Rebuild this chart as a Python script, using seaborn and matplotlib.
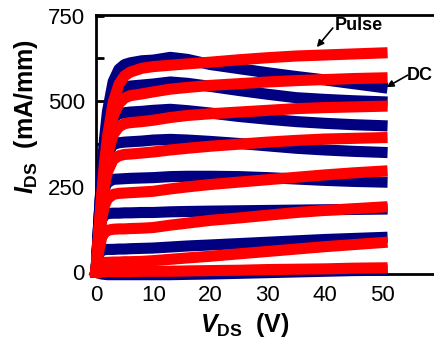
import matplotlib
matplotlib.use("Agg")
import matplotlib.pyplot as plt
import pandas as pd
import seaborn as sns

# drain voltage grid (V)
vds = [0, 0.5, 1, 1.5, 2, 3, 4, 5, 6, 8, 10, 13, 16, 20, 25, 30, 35, 40, 45, 50]

# DC output curves (mA/mm), top gate voltage first
dc_1 = [0, 151, 284, 391, 469, 557, 593, 607, 612, 618, 620, 628, 622, 607, 595, 583, 572, 562, 551, 540]
dc_2 = [0, 148, 275, 372, 439, 507, 532, 541, 544, 547, 550, 556, 552, 543, 531, 520, 510, 505, 501, 498]
dc_3 = [0, 150, 273, 357, 407, 451, 463, 466, 468, 470, 473, 476, 472, 465, 455, 447, 440, 435, 431, 428]
dc_4 = [0, 139, 246, 311, 347, 373, 378, 380, 381, 383, 386, 388, 386, 382, 376, 369, 362, 357, 353, 350]
dc_5 = [0, 126, 207, 246, 262, 271, 272, 273, 274, 275, 276, 279, 280, 280, 279, 276, 272, 268, 265, 263]
dc_6 = [0, 105, 153, 167, 171, 172, 172, 173, 173, 174, 174, 176, 177, 178, 179, 180, 181, 182, 183, 184]
dc_7 = [0, 55, 64, 65, 66, 66, 67, 67, 68, 69, 70, 73, 76, 79, 83, 87, 91, 95, 98, 101]
dc_8 = [0, -4, -6, -7, -8, -8, -8, -8, -8, -8, -8, -8, -7, -6, -4, -2, 0, 2, 4, 5]

# pulsed output curves (mA/mm)
pulse_1 = [0, 117, 226, 320, 395, 496, 549, 574, 585, 596, 601, 605, 609, 614, 621, 627, 632, 635, 638, 641]
pulse_2 = [0, 116, 221, 308, 375, 456, 493, 509, 516, 521, 527, 535, 540, 546, 551, 556, 560, 563, 566, 568]
pulse_3 = [0, 113, 212, 288, 343, 402, 425, 434, 437, 440, 444, 452, 458, 463, 468, 473, 478, 481, 483, 485]
pulse_4 = [0, 104, 191, 253, 293, 329, 340, 344, 345, 348, 351, 357, 362, 368, 374, 380, 385, 389, 391, 393]
pulse_5 = [0, 91, 157, 195, 214, 227, 230, 231, 232, 234, 236, 243, 249, 256, 263, 270, 277, 284, 290, 295]
pulse_6 = [0, 63, 101, 116, 122, 125, 126, 126, 127, 128, 130, 137, 143, 151, 158, 166, 174, 180, 185, 190]
pulse_7 = [0, 21, 27, 28, 28, 29, 29, 30, 30, 31, 33, 37, 41, 46, 53, 60, 67, 74, 80, 86]
pulse_8 = [0, 0, 0, 0, 1, 1, 1, 1, 1, 2, 2, 2, 3, 4, 5, 7, 8, 9, 11, 12]

dc_curves = [dc_1, dc_2, dc_3, dc_4, dc_5, dc_6, dc_7, dc_8]
pulse_curves = [pulse_1, pulse_2, pulse_3, pulse_4, pulse_5, pulse_6, pulse_7, pulse_8]

rows = []
for level, (dc, pulse) in enumerate(zip(dc_curves, pulse_curves), 1):
    for v, i_dc, i_p in zip(vds, dc, pulse):
        rows.append({"vds": v, "ids": i_dc, "mode": "DC", "level": level})
        rows.append({"vds": v, "ids": i_p, "mode": "Pulse", "level": level})
df = pd.DataFrame(rows)

sns.set_style("ticks")
plt.rcParams["font.family"] = ["Liberation Sans", "DejaVu Sans"]
plt.rcParams["mathtext.fontset"] = "custom"
plt.rcParams["mathtext.rm"] = "Liberation Sans:bold"
plt.rcParams["mathtext.bf"] = "Liberation Sans:bold"
plt.rcParams["mathtext.it"] = "Liberation Sans:bold:italic"
for key in ["text.color", "axes.labelcolor", "xtick.color", "ytick.color", "axes.edgecolor"]:
    plt.rcParams[key] = "black"

fig = plt.figure(figsize=(4.35, 3.43), dpi=100)
ax = fig.add_axes([96 / 435, 69 / 343, 339 / 435, 259 / 343])

sns.lineplot(data=df, x="vds", y="ids", hue="mode", units="level", estimator=None,
             hue_order=["DC", "Pulse"], palette={"DC": "#000080", "Pulse": "#ff0000"},
             linewidth=8, solid_capstyle="projecting", clip_on=False, zorder=3,
             legend=False, sort=False, ax=ax)

ax.set_xlim(0, 59.26)
ax.set_ylim(-6, 752)
ax.set_xticks([0, 10, 20, 30, 40, 50])
ax.set_yticks([0, 250, 500, 750])
ax.set_yticks([125, 375, 625], minor=True)
ax.tick_params(which="both", direction="in", length=6, width=2, labelsize=16, pad=8,
               colors="black")
ax.set_xlabel("")
ax.set_ylabel("")
ax.spines["right"].set_visible(False)
for side in ["left", "top", "bottom"]:
    ax.spines[side].set_linewidth(2)
    ax.spines[side].set_color("black")

fig.text(245 / 435, 1 - 325 / 343, r"$V_{\mathrm{DS}}$  (V)", ha="center", va="center",
         fontsize=18, fontweight="bold")
fig.text(26 / 435, 1 - 117 / 343, r"$I_{\mathrm{DS}}$  (mA/mm)", ha="center", va="center",
         rotation=90, fontsize=18, fontweight="bold")

arrow = dict(arrowstyle="-|>", color="black", lw=1.2, mutation_scale=10, shrinkA=0, shrinkB=0)
ax.annotate("", xy=(38.6, 658), xytext=(41.4, 714), arrowprops=arrow)
ax.text(45.9, 720, "Pulse", ha="center", va="center", fontsize=13, fontweight="bold")
ax.annotate("", xy=(50.8, 541), xytext=(54.5, 576), arrowprops=arrow)
ax.text(56.6, 574, "DC", ha="center", va="center", fontsize=13, fontweight="bold")

fig.savefig("out.png", dpi=100)
